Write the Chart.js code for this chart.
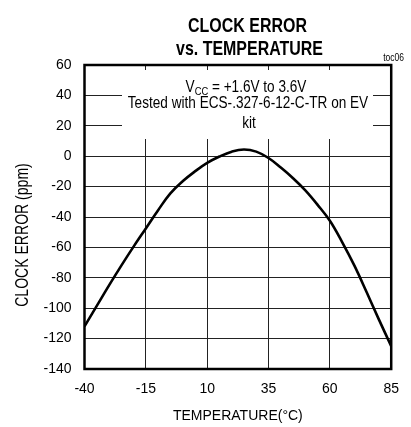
<!DOCTYPE html>
<html>
<head>
<meta charset="utf-8">
<script src="https://cdn.jsdelivr.net/npm/chart.js@4/dist/chart.umd.min.js"></script>
<style>
  html, body { margin: 0; padding: 0; background: #fff; }
  #wrap { width: 411px; height: 427px; }
</style>
</head>
<body>
<div id="wrap"><canvas id="clockChart" width="411" height="427"></canvas></div>
<script>
// Clock error vs temperature
const temps = [-40, -35, -30, -25, -20, -15, -10, -5, 0, 5, 10, 15, 20, 25, 30, 35, 40, 45, 50, 55, 60, 65, 70, 75, 80, 85];
const clockError = [-112, -98.5, -85, -72, -59.5, -47.5, -35.5, -24.5, -16.5, -10, -4.4, -0.2, 3, 4.4, 3, -1.2, -7.5, -14.5, -22.5, -32, -42.5, -56.5, -72, -89.5, -107.5, -125];

const xTicks = [-40, -15, 10, 35, 60, 85];
const yTicks = [-140, -120, -100, -80, -60, -40, -20, 0, 20, 40, 60];

const titleLines = ['CLOCK ERROR', 'vs. TEMPERATURE'];
const noteLines = ['Tested with ECS-.327-6-12-C-TR on EV', 'kit'];
const yTitle = 'CLOCK ERROR (ppm)';
const fontFam = "'Liberation Sans', Arial, sans-serif";

// draw text squeezed horizontally to mimic the narrow face of the original
function narrowText(ctx, text, x, y, font, sx) {
    ctx.save();
    ctx.font = font;
    ctx.translate(x, y);
    ctx.scale(sx, 1);
    ctx.fillText(text, 0, 0);
    ctx.restore();
}

const decorPlugin = {
    id: 'decor',
    beforeDatasetsDraw(chart) {
        const ctx = chart.ctx;
        ctx.save();
        // white box behind the note hides the grid
        ctx.fillStyle = '#fff';
        ctx.fillRect(122, 70, 251, 69);
        ctx.fillStyle = '#000';
        ctx.textBaseline = 'alphabetic';
        const sx = 0.85;
        // V_CC line
        const big = '16px ' + fontFam, small = '11px ' + fontFam;
        ctx.font = big;
        const w1 = ctx.measureText('V').width;
        const w3 = ctx.measureText(' = +1.6V to 3.6V').width;
        ctx.font = small;
        const w2 = ctx.measureText('CC').width;
        const x = 246 - (w1 + w2 + w3) * sx / 2;
        ctx.textAlign = 'left';
        narrowText(ctx, 'V', x, 91.5, big, sx);
        narrowText(ctx, 'CC', x + w1 * sx, 95, small, sx);
        narrowText(ctx, ' = +1.6V to 3.6V', x + (w1 + w2) * sx, 91.5, big, sx);
        ctx.textAlign = 'center';
        narrowText(ctx, noteLines[0], 248, 107.5, big, sx);
        narrowText(ctx, noteLines[1], 249, 128, big, sx);
        ctx.restore();
    },
    afterDraw(chart) {
        const ctx = chart.ctx;
        const a = chart.chartArea;
        ctx.save();
        ctx.strokeStyle = '#000';
        ctx.lineWidth = 2.5;
        ctx.strokeRect(a.left, a.top, a.right - a.left, a.bottom - a.top);
        ctx.fillStyle = '#000';
        ctx.textAlign = 'center';
        ctx.textBaseline = 'alphabetic';
        narrowText(ctx, titleLines[0], 247.5, 31.5, 'bold 21px ' + fontFam, 0.76);
        narrowText(ctx, titleLines[1], 249.5, 55, 'bold 21px ' + fontFam, 0.76);
        ctx.textAlign = 'right';
        narrowText(ctx, 'toc06', 404, 61, '10px ' + fontFam, 0.85);
        // rotated y axis title
        ctx.save();
        ctx.translate(28, 235);
        ctx.rotate(-Math.PI / 2);
        ctx.textAlign = 'center';
        narrowText(ctx, yTitle, 0, 0, '18px ' + fontFam, 0.78);
        ctx.restore();
        ctx.restore();
    }
};

const ctx = document.getElementById('clockChart').getContext('2d');
new Chart(ctx, {
    type: 'line',
    data: {
        datasets: [{
            data: temps.map((t, i) => ({ x: t, y: clockError[i] })),
            borderColor: '#000',
            borderWidth: 2.6,
            pointRadius: 0,
            tension: 0.4,
            fill: false
        }]
    },
    options: {
        responsive: false,
        animation: false,
        layout: { padding: { top: 65, right: 8, left: 0, bottom: 0 } },
        plugins: {
            legend: { display: false },
            tooltip: { enabled: false }
        },
        scales: {
            x: {
                type: 'linear',
                min: -40,
                max: 85,
                afterBuildTicks: s => { s.ticks = xTicks.map(v => ({ value: v })); },
                afterFit: s => { s.height = 58; },
                grid: { color: '#222', lineWidth: 1, drawTicks: false },
                border: { display: false },
                ticks: { color: '#000', padding: 12, font: { size: 14, family: fontFam } },
                title: {
                    display: true,
                    text: 'TEMPERATURE(°C)',
                    color: '#000',
                    font: { size: 14, family: fontFam },
                    padding: { top: 0, bottom: 2 }
                }
            },
            y: {
                min: -140,
                max: 60,
                afterBuildTicks: s => { s.ticks = yTicks.map(v => ({ value: v })); },
                afterFit: s => { s.width = 84.5; },
                grid: { color: '#222', lineWidth: 1, drawTicks: false },
                border: { display: false },
                ticks: { color: '#000', padding: 13, font: { size: 14, family: fontFam } }
            }
        }
    },
    plugins: [decorPlugin]
});
</script>
</body>
</html>
